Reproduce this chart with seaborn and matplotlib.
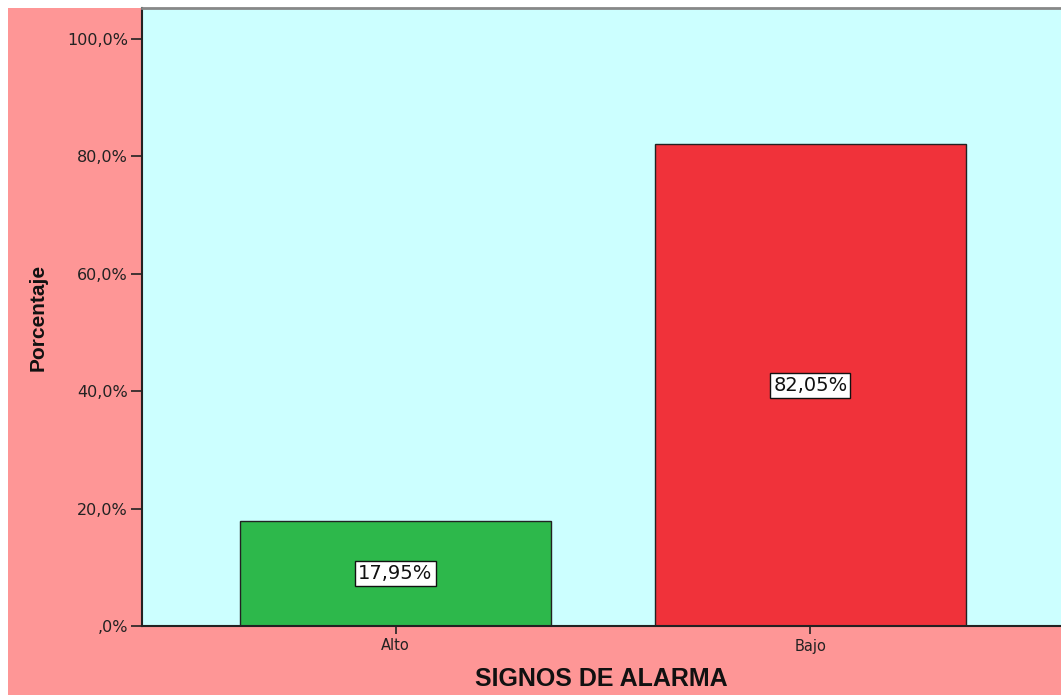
import matplotlib
matplotlib.use("Agg")
import matplotlib.pyplot as plt
from matplotlib.patches import Rectangle
import seaborn as sns
import pandas as pd

categories = ["Alto", "Bajo"]
percentages = [17.95, 82.05]
bar_colors = ["#2DB84B", "#F0323A"]
y_ticks = [0, 20, 40, 60, 80, 100]
y_tick_labels = [",0%", "20,0%", "40,0%", "60,0%", "80,0%", "100,0%"]

sns.set_theme(style="white")
plt.rcParams["font.family"] = ["DejaVu Sans"]

W, H = 1061, 695
fig = plt.figure(figsize=(W / 100, H / 100), dpi=100)
fig.patch.set_facecolor("white")
# salmon panel behind the plot area, leaving a thin white margin top and left
fig.patches.append(Rectangle((8 / W, 0), 1 - 8 / W, (H - 8) / H,
                             transform=fig.transFigure, facecolor="#FE9696",
                             edgecolor="none", zorder=-10))

ax = fig.add_axes([142 / W, 69 / H, (W - 142) / W, (626 - 8) / H])
ax.set_facecolor("#CCFFFF")

df = pd.DataFrame({"cat": categories, "pct": percentages})
sns.barplot(data=df, x="cat", y="pct", hue="cat", palette=bar_colors,
            width=0.75, edgecolor="#222222", linewidth=1.0, legend=False,
            saturation=1, ax=ax)

for i, v in enumerate(percentages):
    ax.text(i, v / 2, f"{v:.2f}%".replace(".", ","), ha="center", va="center",
            fontsize=14, color="#111111",
            bbox=dict(boxstyle="square,pad=0.15", facecolor="white",
                      edgecolor="#111111", linewidth=1.0))

ax.set_ylim(0, 105.3)
ax.set_xlim(-0.611, 1.604)
ax.set_yticks(y_ticks)
ax.set_yticklabels(y_tick_labels, fontsize=11.5, color="#222222")
ax.set_xticks(range(len(categories)))
ax.set_xticklabels(categories, fontsize=10.5, color="#222222")
ax.tick_params(axis="y", which="major", direction="out", length=8, width=1.2,
               color="#222222", left=True, pad=2)
ax.tick_params(axis="x", which="major", direction="out", length=6, width=1.2,
               color="#222222", bottom=True, pad=3)

ax.set_xlabel("SIGNOS DE ALARMA", fontsize=18, fontweight="bold", color="#111111",
              family="Liberation Sans", labelpad=10)
ax.set_ylabel("Porcentaje", fontsize=15, fontweight="bold", color="#111111",
              family="Liberation Sans", labelpad=14)

for side in ["left", "bottom"]:
    ax.spines[side].set_color("#222222")
    ax.spines[side].set_linewidth(1.5)
ax.spines["top"].set_color("#888888")
ax.spines["top"].set_linewidth(2)
ax.spines["right"].set_visible(False)

fig.savefig("out.png", dpi=100)
